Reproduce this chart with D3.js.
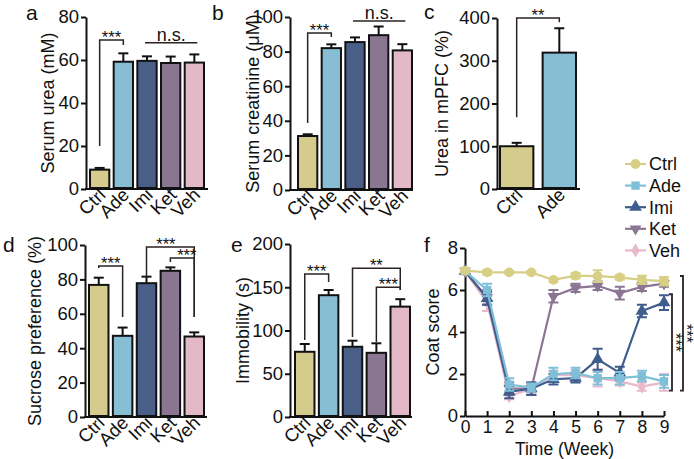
<!DOCTYPE html>
<html><head><meta charset="utf-8">
<script src="https://cdn.jsdelivr.net/npm/d3@7/dist/d3.min.js"></script>
<style>html,body{margin:0;padding:0;background:#fff;} svg{display:block;}</style>
</head><body>
<svg id="chart" width="694" height="459"></svg>
<script>
// ---------------- DATA ----------------
const groups = ["Ctrl", "Ade", "Imi", "Ket", "Veh"];
const groupColors = ["#d4cb8c", "#87bed4", "#4a5f88", "#8a7690", "#e3b9c8"];
const lineColors = ["#d6cf84", "#7fbfd8", "#3f5d8c", "#8a7592", "#e9b8c9"];

const ureaMean = [9, 59.2, 59.6, 58.6, 58.8];
const ureaSem = [0.8, 3.9, 2.1, 3.0, 3.8];
const ureaTicks = [0, 20, 40, 60, 80];

const creatMean = [31.2, 82, 85.5, 89.5, 80.7];
const creatSem = [1.0, 2.2, 2.7, 5.0, 3.6];
const creatTicks = [0, 20, 40, 60, 80, 100];

const mpfcGroups = ["Ctrl", "Ade"];
const mpfcMean = [100, 319];
const mpfcSem = [8, 57];
const mpfcTicks = [0, 100, 200, 300, 400];

const sucroseMean = [76.8, 47.2, 77.8, 85, 46.8];
const sucroseSem = [4.2, 4.8, 3.8, 2.0, 2.4];
const sucroseTicks = [0, 20, 40, 60, 80, 100];

const immobMean = [75.4, 140.8, 81.2, 74.2, 127.6];
const immobSem = [9, 6, 7, 11, 8.6];
const immobTicks = [0, 50, 100, 150, 200];

const weeks = [0, 1, 2, 3, 4, 5, 6, 7, 8, 9];
const coatCtrl = [6.92, 6.84, 6.84, 6.84, 6.48, 6.68, 6.66, 6.6, 6.48, 6.42];
const coatCtrlSem = [0.08, 0.1, 0.05, 0.05, 0.08, 0.12, 0.28, 0.1, 0.2, 0.2];
const coatAde = [6.9, 6.0, 1.5, 1.35, 2.0, 2.05, 1.8, 1.8, 1.9, 1.65];
const coatAdeSem = [0.08, 0.3, 0.3, 0.2, 0.3, 0.25, 0.3, 0.3, 0.25, 0.3];
const coatImi = [6.9, 5.6, 1.15, 1.3, 1.75, 1.8, 2.7, 2.05, 5.0, 5.4];
const coatImiSem = [0.08, 0.3, 0.3, 0.3, 0.25, 0.2, 0.5, 0.3, 0.3, 0.35];
const coatKet = [6.9, 5.65, 1.3, 1.3, 5.7, 6.1, 6.2, 5.85, 6.15, 6.3];
const coatKetSem = [0.08, 0.35, 0.3, 0.3, 0.3, 0.2, 0.2, 0.3, 0.2, 0.15];
const coatVeh = [6.9, 5.4, 0.95, 1.3, 1.95, 1.95, 1.8, 1.65, 1.4, 1.6];
const coatVehSem = [0.08, 0.4, 0.15, 0.2, 0.2, 0.2, 0.4, 0.2, 0.2, 0.4];
const coatTicks = [0, 2, 4, 6, 8];

// significance annotations (group pairs, levels in data units)
const sigA = [{a: "Ctrl", b: "Ade", top: 69.3, endA: 20, endB: 67, label: "***"}];
const nsA = {a: "Imi", b: "Veh", level: 68, label: "n.s."};
const sigB = [{a: "Ctrl", b: "Ade", top: 90.8, endA: 38.7, endB: 88.4, label: "***"}];
const nsB = {a: "Imi", b: "Veh", level: 97.7, label: "n.s."};
const sigC = [{a: "Ctrl", b: "Ade", top: 400, endA: 168, endB: 390, label: "**"}];
const sigD = [
  {a: "Ctrl", b: "Ade", top: 87.8, endA: 86.6, endB: 58.1, label: "***"},
  {a: "Imi", b: "Veh", top: 98.8, endA: 81.4, endB: 58.1, label: "***"},
  {a: "Ket", b: "Veh", top: 92.4, endA: 90.1, endB: 58.1, label: "***"}
];
const sigE = [
  {a: "Ctrl", b: "Ade", top: 165.3, endA: 89, endB: 156, label: "***"},
  {a: "Imi", b: "Veh", top: 172, endA: 92.5, endB: 146.8, label: "**"},
  {a: "Ket", b: "Veh", top: 150, endA: 86.7, endB: 146.8, label: "***"}
];
const sigF = [
  {hi: "Imi", lo: "Ade", label: "***"},
  {hi: "Ctrl", lo: "Ade", label: "***"}
];

// ---------------- DRAW ----------------
const FONT = "Arial, 'Liberation Sans', Helvetica, sans-serif";
const svg = d3.select("#chart").style("font-family", FONT);
const colorOf = g => groupColors[groups.indexOf(g)];
const INK = "#111";
const SIGINK = "#2b2222";

function separateLabels(nodes) {
  // nudge significance labels apart horizontally if their boxes collide
  for (let i = 0; i < nodes.length; i++) {
    for (let j = i + 1; j < nodes.length; j++) {
      const a = nodes[i].node().getBBox(), b = nodes[j].node().getBBox();
      const ox = Math.min(a.x + a.width, b.x + b.width) - Math.max(a.x, b.x);
      const oy = Math.min(a.y + a.height, b.y + b.height) - Math.max(a.y, b.y);
      if (ox > 0 && oy > 0) {
        const shift = ox / 2 + 0.5;
        const [left, right] = (a.x <= b.x) ? [nodes[i], nodes[j]] : [nodes[j], nodes[i]];
        left.attr("x", +left.attr("x") - shift);
        right.attr("x", +right.attr("x") + shift);
      }
    }
  }
}

function barPanel(cfg) {
  const g = svg.append("g");
  const x = d3.scaleBand().domain(cfg.cats).range([cfg.barStart, cfg.barEnd])
    .paddingInner(cfg.padInner).paddingOuter(0);
  const y = d3.scaleLinear().domain([0, cfg.yMax]).range([cfg.yBottom, cfg.yTop]);

  // y axis
  const ya = g.append("g").attr("transform", `translate(${cfg.axisX},0)`)
    .call(d3.axisLeft(y).tickValues(cfg.ticks).tickSize(5).tickSizeOuter(0).tickPadding(2));
  ya.select(".domain").attr("stroke", INK).attr("stroke-width", 2);
  ya.selectAll(".tick line").attr("stroke", INK).attr("stroke-width", 2);
  ya.selectAll(".tick text").attr("font-family", FONT).attr("font-size", 18.5).attr("fill", INK);

  // x axis line
  g.append("line").attr("x1", cfg.axisX - 1).attr("x2", cfg.axisEnd)
    .attr("y1", cfg.yBottom).attr("y2", cfg.yBottom).attr("stroke", INK).attr("stroke-width", 2);

  // bars
  cfg.cats.forEach((c, i) => {
    const cx = x(c) + x.bandwidth() / 2;
    const top = y(cfg.means[i]);
    const et = y(cfg.means[i] + cfg.sems[i]);
    g.append("line").attr("x1", cx).attr("x2", cx).attr("y1", top).attr("y2", et)
      .attr("stroke", INK).attr("stroke-width", 2);
    g.append("line").attr("x1", cx - 5).attr("x2", cx + 5).attr("y1", et).attr("y2", et)
      .attr("stroke", INK).attr("stroke-width", 2);
    g.append("rect").attr("x", x(c) + 1).attr("y", top)
      .attr("width", x.bandwidth() - 2).attr("height", cfg.yBottom - top - 1)
      .attr("fill", colorOf(c)).attr("stroke", INK).attr("stroke-width", 2);
    // category label
    g.append("text").attr("transform", `translate(${cx + 7},${cfg.yBottom + 7}) rotate(-45)`)
      .attr("text-anchor", "end").attr("font-size", 18.5).attr("fill", INK).text(c);
  });

  // significance brackets
  const sigLabels = [];
  (cfg.sig || []).forEach(s => {
    const xa = x(s.a) + x.bandwidth() / 2, xb = x(s.b) + x.bandwidth() / 2;
    const yt = y(s.top);
    g.append("path").attr("d", `M${xa},${y(s.endA)}V${yt}H${xb}V${y(s.endB)}`)
      .attr("fill", "none").attr("stroke", SIGINK).attr("stroke-width", 1.5);
    sigLabels.push(g.append("text").attr("x", (xa + xb) / 2).attr("y", yt + 3)
      .attr("text-anchor", "middle").attr("font-size", 16.5).attr("fill", INK).text(s.label));
  });
  separateLabels(sigLabels);
  if (cfg.ns) {
    const xa = x(cfg.ns.a) + x.bandwidth() / 2 - 2, xb = x(cfg.ns.b) + x.bandwidth() / 2 + 3;
    const yl = y(cfg.ns.level);
    g.append("line").attr("x1", xa).attr("x2", xb).attr("y1", yl).attr("y2", yl)
      .attr("stroke", SIGINK).attr("stroke-width", 1.5);
    g.append("text").attr("x", (xa + xb) / 2).attr("y", yl - 2)
      .attr("text-anchor", "middle").attr("font-size", 18).attr("fill", INK).text(cfg.ns.label);
  }

  // y title
  g.append("text").attr("transform", `translate(${cfg.titleX},${(cfg.yTop + cfg.yBottom) / 2}) rotate(-90)`)
    .attr("text-anchor", "middle").attr("dy", "0.35em").attr("font-size", 18).attr("fill", INK).text(cfg.title);
  // panel letter
  g.append("text").attr("x", cfg.letterX).attr("y", cfg.letterY)
    .attr("font-size", 21).attr("fill", INK).text(cfg.letter);
}

barPanel({cats: groups, means: ureaMean, sems: ureaSem, yMax: 80, ticks: ureaTicks,
  axisX: 86, axisEnd: 208, barStart: 89, barEnd: 205, padInner: 0.1,
  yTop: 17, yBottom: 189, title: "Serum urea (mM)", titleX: 48,
  letter: "a", letterX: 26, letterY: 20, sig: sigA, ns: nsA});

barPanel({cats: groups, means: creatMean, sems: creatSem, yMax: 100, ticks: creatTicks,
  axisX: 290, axisEnd: 413, barStart: 297, barEnd: 413, padInner: 0.1,
  yTop: 17, yBottom: 190, title: "Serum creatinine (\u03bcM)", titleX: 253,
  letter: "b", letterX: 212, letterY: 20, sig: sigB, ns: nsB});

barPanel({cats: mpfcGroups, means: mpfcMean, sems: mpfcSem, yMax: 400, ticks: mpfcTicks,
  axisX: 497, axisEnd: 580, barStart: 499, barEnd: 577, padInner: 0.17,
  yTop: 18, yBottom: 189, title: "Urea in mPFC (%)", titleX: 442,
  letter: "c", letterX: 424, letterY: 19, sig: sigC});

barPanel({cats: groups, means: sucroseMean, sems: sucroseSem, yMax: 100, ticks: sucroseTicks,
  axisX: 85, axisEnd: 207, barStart: 88, barEnd: 205, padInner: 0.1,
  yTop: 245, yBottom: 417, title: "Sucrose preference (%)", titleX: 35,
  letter: "d", letterX: 3, letterY: 252, sig: sigD});

barPanel({cats: groups, means: immobMean, sems: immobSem, yMax: 200, ticks: immobTicks,
  axisX: 290, axisEnd: 412, barStart: 294, barEnd: 411, padInner: 0.1,
  yTop: 244, yBottom: 417, title: "Immobility (s)", titleX: 243,
  letter: "e", letterX: 231, letterY: 252, sig: sigE});

// ---------------- PANEL f ----------------
(function () {
  const g = svg.append("g");
  const x = d3.scaleLinear().domain([0, 9]).range([465, 664]);
  const y = d3.scaleLinear().domain([0, 8]).range([416, 248]);

  const ya = g.append("g").attr("transform", "translate(465,0)")
    .call(d3.axisLeft(y).tickValues(coatTicks).tickSize(5).tickSizeOuter(0).tickPadding(2));
  ya.select(".domain").attr("stroke", INK).attr("stroke-width", 2);
  ya.selectAll(".tick line").attr("stroke", INK).attr("stroke-width", 2);
  ya.selectAll(".tick text").attr("font-family", FONT).attr("font-size", 18.5).attr("fill", INK);

  const xa = g.append("g").attr("transform", "translate(0,416)")
    .call(d3.axisBottom(x).tickValues(weeks).tickSize(-5).tickSizeOuter(0).tickPadding(5));
  xa.select(".domain").attr("stroke", INK).attr("stroke-width", 2);
  xa.selectAll(".tick line").attr("stroke", INK).attr("stroke-width", 2);
  xa.selectAll(".tick text").attr("font-family", FONT).attr("font-size", 17.5).attr("fill", INK);

  g.append("text").attr("x", 564.5).attr("y", 454.5).attr("text-anchor", "middle")
    .attr("font-size", 17.5).attr("fill", INK).text("Time (Week)");
  g.append("text").attr("transform", "translate(433,332) rotate(-90)")
    .attr("text-anchor", "middle").attr("dy", "0.35em").attr("font-size", 18).attr("fill", INK).text("Coat score");
  g.append("text").attr("x", 424).attr("y", 252).attr("font-size", 21).attr("fill", INK).text("f");

  const series = {
    Ctrl: {m: coatCtrl, s: coatCtrlSem, sym: d3.symbolCircle, size: 75, rot: 0},
    Ade: {m: coatAde, s: coatAdeSem, sym: d3.symbolSquare, size: 70, rot: 0},
    Imi: {m: coatImi, s: coatImiSem, sym: d3.symbolTriangle, size: 70, rot: 0},
    Ket: {m: coatKet, s: coatKetSem, sym: d3.symbolTriangle, size: 60, rot: 180},
    Veh: {m: coatVeh, s: coatVehSem, sym: d3.symbolDiamond, size: 60, rot: 0}
  };
  const lineCol = name => lineColors[groups.indexOf(name)];
  const drawOrder = ["Veh", "Ket", "Imi", "Ade", "Ctrl"];
  const line = d3.line().x((d, i) => x(weeks[i])).y(d => y(d));
  drawOrder.forEach(name => {
    const s = series[name], col = lineCol(name);
    const sg = g.append("g");
    sg.append("path").attr("d", line(s.m)).attr("fill", "none").attr("stroke", col).attr("stroke-width", 2.2);
    s.m.forEach((v, i) => {
      const cx = x(weeks[i]);
      const y1 = y(v - s.s[i]), y2 = y(v + s.s[i]);
      sg.append("path").attr("d", `M${cx},${y1}V${y2}M${cx - 5},${y1}H${cx + 5}M${cx - 5},${y2}H${cx + 5}`)
        .attr("stroke", col).attr("stroke-width", 2).attr("fill", "none");
      sg.append("path").attr("d", d3.symbol().type(s.sym).size(s.size)())
        .attr("transform", `translate(${cx},${y(v)}) rotate(${s.rot})`).attr("fill", col);
    });
  });

  // significance lines at right
  const offsets = [207, 218];
  sigF.forEach((s, k) => {
    const hi = series[s.hi], lo = series[s.lo];
    const last = weeks.length - 1;
    const yt = y(hi.m[last] + hi.s[last]) - 1;
    const yb = y(lo.m[last] - lo.s[last]) + 3;
    const lx = 465 + offsets[k];
    g.append("path").attr("d", `M${lx - 3},${yt}H${lx}V${yb}H${lx - 3}`)
      .attr("fill", "none").attr("stroke", SIGINK).attr("stroke-width", 1.8);
    g.append("text").attr("transform", `translate(${lx + 7 - 0.59 * 16},${(yt + yb) / 2}) rotate(90)`)
      .attr("text-anchor", "middle").attr("font-size", 16).attr("fill", INK).text(s.label);
  });

  // legend
  const leg = g.append("g");
  groups.forEach((name, i) => {
    const s = series[name], col = lineCol(name);
    const ly = 164 + i * 21.6;
    leg.append("line").attr("x1", 625).attr("x2", 646).attr("y1", ly).attr("y2", ly)
      .attr("stroke", col).attr("stroke-width", 2.2);
    leg.append("path").attr("d", d3.symbol().type(s.sym).size(s.size)())
      .attr("transform", `translate(635.5,${ly}) rotate(${s.rot})`).attr("fill", col);
    leg.append("text").attr("x", 649).attr("y", ly).attr("dy", "0.36em")
      .attr("font-size", 18).attr("fill", INK).text(name);
  });
})();
</script>
</body></html>
